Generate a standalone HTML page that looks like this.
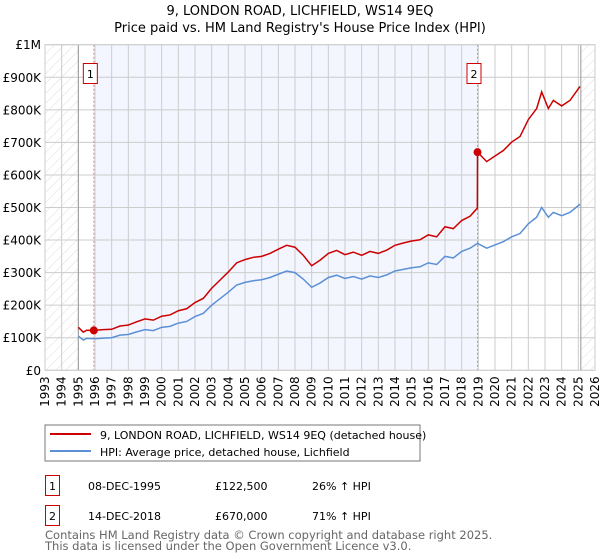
<!DOCTYPE html>
<html><head><meta charset="utf-8"><style>
body{margin:0;background:#fff;font-family:"DejaVu Sans","Liberation Sans",sans-serif;}
#wrap{position:relative;width:600px;height:560px;overflow:hidden}
</style></head><body><div id="wrap">
<svg id="chart" width="600" height="560" xmlns="http://www.w3.org/2000/svg" font-family="DejaVu Sans, Liberation Sans, sans-serif">
<defs><pattern id="hatch" width="7" height="7" patternUnits="userSpaceOnUse" patternTransform="rotate(45)"><line x1="0" y1="0" x2="0" y2="7" stroke="#d4d4d4" stroke-width="0.8"/></pattern></defs>
<text x="300" y="15" text-anchor="middle" font-size="13" fill="#000">9, LONDON ROAD, LICHFIELD, WS14 9EQ</text>
<text x="300" y="32" text-anchor="middle" font-size="13" fill="#000">Price paid vs. HM Land Registry's House Price Index (HPI)</text>
<g id="plot"></g>
<rect x="45" y="425" width="375" height="36" fill="#fff" stroke="#777"/>
<line x1="50" y1="434" x2="91" y2="434" stroke="#cc0000" stroke-width="2"/>
<text x="100" y="439" font-size="11">9, LONDON ROAD, LICHFIELD, WS14 9EQ (detached house)</text>
<line x1="50" y1="451" x2="91" y2="451" stroke="#5b8fd6" stroke-width="2"/>
<text x="100" y="456" font-size="11">HPI: Average price, detached house, Lichfield</text>
<g font-size="11">
<rect x="45.5" y="475.5" width="14" height="20" fill="#fff" stroke="#cc0000"/>
<text x="52.5" y="490" text-anchor="middle">1</text>
<text x="88" y="490">08-DEC-1995</text>
<text x="215" y="490">£122,500</text>
<text x="312" y="490">26% ↑ HPI</text>
<rect x="45.5" y="505.5" width="14" height="20" fill="#fff" stroke="#cc0000"/>
<text x="52.5" y="520" text-anchor="middle">2</text>
<text x="88" y="520">14-DEC-2018</text>
<text x="215" y="520">£670,000</text>
<text x="312" y="520">71% ↑ HPI</text>
</g>
<text x="45" y="539" font-size="11.5" fill="#666">Contains HM Land Registry data © Crown copyright and database right 2025.</text>
<text x="45" y="550" font-size="11.5" fill="#666">This data is licensed under the Open Government Licence v3.0.</text>
</svg></div>
<script>
const hpiYears=[1995.0,1995.3,1995.5,1996,1996.5,1997,1997.5,1998,1998.5,1999,1999.5,2000,2000.5,2001,2001.5,2002,2002.5,2003,2003.5,2004,2004.5,2005,2005.5,2006,2006.5,2007,2007.5,2008,2008.5,2009,2009.5,2010,2010.5,2011,2011.5,2012,2012.5,2013,2013.5,2014,2014.5,2015,2015.5,2016,2016.5,2017,2017.5,2018,2018.5,2018.95,2019.5,2020,2020.5,2021,2021.5,2022,2022.5,2022.8,2023.2,2023.5,2024,2024.5,2025.1];
const hpiValues=[105,93,98,97,99,100,108,110,118,125,122,132,135,145,150,165,175,200,220,240,262,270,275,278,285,295,305,300,280,255,268,285,292,282,288,280,290,285,293,305,310,315,318,330,325,350,345,365,375,390,375,385,395,410,420,450,470,500,470,485,475,485,510];
const priceYears=[1995.0,1995.3,1995.5,1995.93,1996.5,1997,1997.5,1998,1998.5,1999,1999.5,2000,2000.5,2001,2001.5,2002,2002.5,2003,2003.5,2004,2004.5,2005,2005.5,2006,2006.5,2007,2007.5,2008,2008.5,2009,2009.5,2010,2010.5,2011,2011.5,2012,2012.5,2013,2013.5,2014,2014.5,2015,2015.5,2016,2016.5,2017,2017.5,2018,2018.5,2018.94,2018.95,2019.5,2020,2020.5,2021,2021.5,2022,2022.5,2022.8,2023.2,2023.5,2024,2024.5,2025.1];
const priceValues=[132,117,123,122.5,125,126,136,139,149,158,154,166,170,183,189,208,221,252,277,302,330,340,347,350,359,372,384,378,353,321,338,359,368,355,363,353,365,359,369,384,391,397,401,416,410,441,435,460,473,498,670,641,658,675,701,718,770,804,855,804,829,812,829,872];
const saleYears=[1995.93,2018.95];
const saleValues=[122.5,670];
const saleLabels=["1","2"];
const yTicks=[0,100,200,300,400,500,600,700,800,900,1000];
const yTickLabels=["£0","£100K","£200K","£300K","£400K","£500K","£600K","£700K","£800K","£900K","£1M"];
const xTicks=[1993,1994,1995,1996,1997,1998,1999,2000,2001,2002,2003,2004,2005,2006,2007,2008,2009,2010,2011,2012,2013,2014,2015,2016,2017,2018,2019,2020,2021,2022,2023,2024,2025,2026];
const dataStart=1995, dataEnd=2025.15;
const X0=45,X1=595,Y0=370.3,Y1=44.7;
const x=y=>X0+(y-1993)/(2026-1993)*(X1-X0);
const yv=v=>Y0-v/1000*(Y0-Y1);
const NS="http://www.w3.org/2000/svg";
const g=document.getElementById('plot');
function el(t,a){const e=document.createElementNS(NS,t);for(const k in a)e.setAttribute(k,a[k]);g.appendChild(e);return e;}
let e;
e=el('rect',{x:X0,y:Y1,width:X1-X0,height:Y0-Y1,fill:'#fff'});


e=el('rect',{x:x(saleYears[0]),y:Y1,width:x(saleYears[1])-x(saleYears[0]),height:Y0-Y1,fill:'#f3f6fe'});


e=el('rect',{x:X0,y:Y1,width:x(dataStart)-X0,height:Y0-Y1,fill:'url(#hatch)'});


e=el('rect',{x:x(dataEnd),y:Y1,width:X1-x(dataEnd),height:Y0-Y1,fill:'url(#hatch)'});


xTicks.forEach(t=>{
 e=el('line',{x1:x(t),x2:x(t),y1:Y1,y2:Y0,stroke:'#ccc','stroke-width':1});
 
 
 e=el('text',{x:0,y:0,'font-size':12,'text-anchor':'end',transform:`translate(${x(t)+4},${Y0+6}) rotate(-90)`});
 e.textContent=t;
 
 
});
yTicks.forEach((t,i)=>{
 e=el('line',{x1:X0,x2:X1,y1:yv(t),y2:yv(t),stroke:'#ccc','stroke-width':1});
 
 
 e=el('text',{x:X0-4,y:yv(t)+4.5,'font-size':12,'text-anchor':'end'});
 e.textContent=yTickLabels[i];
 
 
});
[dataStart,dataEnd].forEach(t=>{
 e=el('line',{x1:x(t),x2:x(t),y1:Y1,y2:Y0,stroke:'#999','stroke-width':1});
 
 
});
saleYears.forEach((t,i)=>{
 e=el('line',{x1:x(t),x2:x(t),y1:Y1,y2:Y0,stroke:'#f08080','stroke-width':1,'stroke-dasharray':'2,2'});
 
 
});
e=el('polyline',{points:hpiYears.map((t,i)=>x(t)+','+yv(hpiValues[i])).join(' '),fill:'none',stroke:'#5b8fd6','stroke-width':1.5});


e=el('polyline',{points:priceYears.map((t,i)=>x(t)+','+yv(priceValues[i])).join(' '),fill:'none',stroke:'#cc0000','stroke-width':1.5});


saleYears.forEach((t,i)=>{
 e=el('circle',{cx:x(t),cy:yv(saleValues[i]),r:4,fill:'#cc0000'});
 
 
 e=el('rect',{x:x(t)-10.5,y:63.5,width:14,height:20,fill:'#fff',stroke:'#cc0000'});
 
 
 e=el('text',{x:x(t)-3.5,y:78,'font-size':11,'text-anchor':'middle'});
 e.textContent=saleLabels[i];
 
 
});
e=el('rect',{x:X0,y:Y1,width:X1-X0,height:Y0-Y1,fill:'none',stroke:'#ccc'});


</script></body></html>
